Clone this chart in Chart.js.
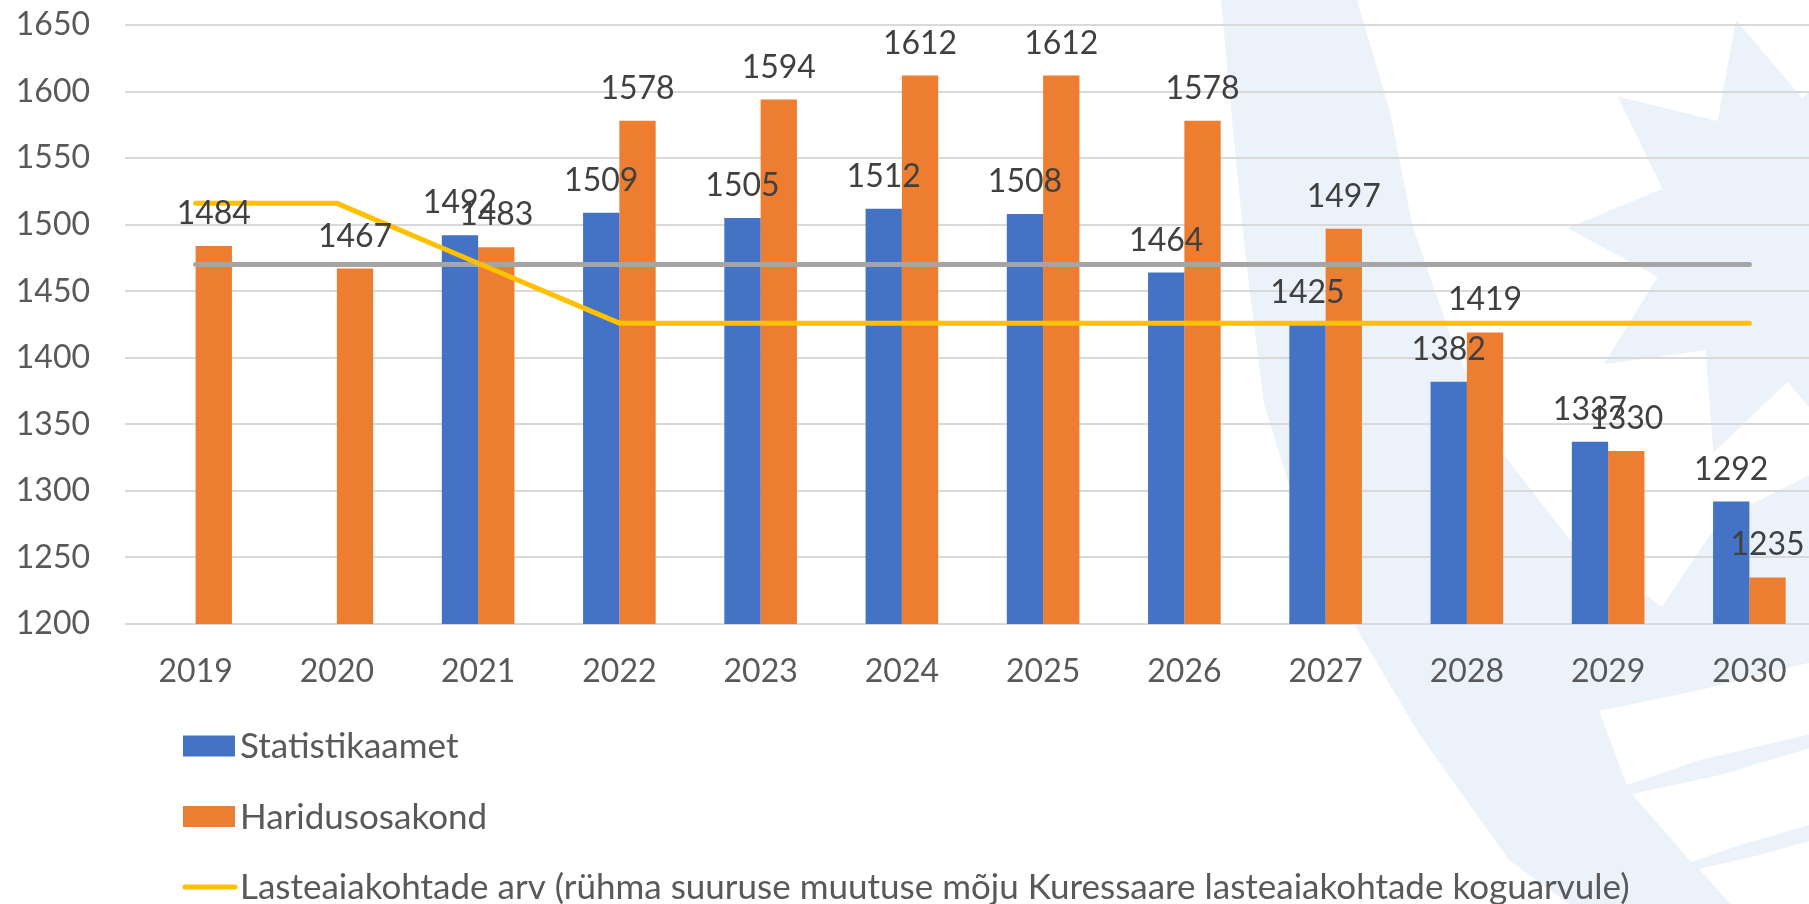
<!DOCTYPE html>
<html>
<head>
<meta charset="utf-8">
<script src="https://cdn.jsdelivr.net/npm/chart.js@4"></script>
<style>
  body { margin: 0; overflow: hidden; background: #fff; }
  #wrap { width: 1820px; height: 904px; }
</style>
</head>
<body>
<div id="wrap"><canvas id="chart" width="1820" height="904"></canvas></div>
<script>
const years = ["2019", "2020", "2021", "2022", "2023", "2024", "2025", "2026", "2027", "2028", "2029", "2030"];
const statistikaamet = [null, null, 1492, 1509, 1505, 1512, 1508, 1464, 1425, 1382, 1337, 1292];
const haridusosakond = [1484, 1467, 1483, 1578, 1594, 1612, 1612, 1578, 1497, 1419, 1330, 1235];
const lasteaiakohad = [1516, 1516, 1471, 1426, 1426, 1426, 1426, 1426, 1426, 1426, 1426, 1426];
const praegused = [1470, 1470, 1470, 1470, 1470, 1470, 1470, 1470, 1470, 1470, 1470, 1470];
const yTicks = [1200, 1250, 1300, 1350, 1400, 1450, 1500, 1550, 1600, 1650];

const labelColor = "#404040";
const axisColor = "#595959";
const lightBlue = "#EBF2FA";

Chart.defaults.font.family = "Lato";

// faint logo in the background
const watermark = {
  id: "watermark",
  beforeDraw(chart) {
    const ctx = chart.ctx;
    const poly = (pts, color) => {
      ctx.beginPath();
      ctx.moveTo(pts[0][0], pts[0][1]);
      pts.slice(1).forEach((p) => ctx.lineTo(p[0], p[1]));
      ctx.closePath();
      ctx.fillStyle = color;
      ctx.fill();
    };
    ctx.save();
    ctx.fillStyle = "#fff";
    ctx.fillRect(0, 0, chart.width, chart.height);
    // big shape on the right
    poly([[1221, 0], [1232, 120], [1246, 260], [1264, 404], [1300, 520], [1352, 621],
      [1420, 735], [1509, 860], [1569, 904], [1820, 904], [1820, 0]], lightBlue);
    // white band
    poly([[1357, 0], [1390, 112], [1412, 224], [1450, 335], [1497, 446], [1570, 540],
      [1662, 607], [1720, 520], [1820, 470], [1820, 0]], "#fff");
    // star
    const cx = 1795, cy = 240, R = 228, r = 142;
    const pts = [];
    for (let i = 0; i < 20; i++) {
      const a = (-105 + i * 18) * Math.PI / 180;
      const rad = i % 2 === 0 ? R : r;
      pts.push([cx + rad * Math.cos(a), cy + rad * Math.sin(a)]);
    }
    poly(pts, lightBlue);
    // white stripes lower right
    poly([[1599, 711], [1700, 690], [1820, 660], [1820, 732], [1700, 760], [1627, 785]], "#fff");
    poly([[1632, 794], [1720, 775], [1820, 745], [1820, 822], [1740, 845], [1691, 862]], "#fff");
    poly([[1699, 869], [1760, 855], [1820, 838], [1820, 904], [1730, 904]], "#fff");
    ctx.restore();
  },
};

// value labels above the bars
const valueLabels = {
  id: "valueLabels",
  afterDatasetsDraw(chart) {
    const ctx = chart.ctx;
    ctx.save();
    ctx.font = "32px Lato";
    ctx.fillStyle = labelColor;
    ctx.textAlign = "center";
    ctx.textBaseline = "alphabetic";
    chart.data.datasets.forEach((ds, i) => {
      if (ds.type !== "bar") return;
      chart.getDatasetMeta(i).data.forEach((bar, j) => {
        const v = ds.data[j];
        if (v === null) return;
        ctx.fillText(String(v), bar.x, bar.y - 22);
      });
    });
    ctx.restore();
  },
};

// legend stacked under the chart
const stackedLegend = {
  id: "stackedLegend",
  afterDraw(chart) {
    const ctx = chart.ctx;
    const items = chart.data.datasets.filter((ds) => ds.label);
    items.sort((a, b) => a.legendOrder - b.legendOrder);
    ctx.save();
    ctx.font = "35px Lato";
    ctx.textBaseline = "middle";
    items.forEach((ds, i) => {
      const y = 746 + i * 70.5;
      if (ds.type === "bar") {
        ctx.fillStyle = ds.backgroundColor;
        ctx.fillRect(183, y - 10.5, 52, 21);
      } else {
        ctx.strokeStyle = ds.borderColor;
        ctx.lineWidth = 5;
        ctx.lineCap = "round";
        ctx.beginPath();
        ctx.moveTo(185, y);
        ctx.lineTo(235, y);
        ctx.stroke();
      }
      ctx.fillStyle = axisColor;
      ctx.fillText(ds.label, 240, y + 1);
    });
    ctx.restore();
  },
};

new Chart(document.getElementById("chart"), {
  data: {
    labels: years,
    datasets: [
      {
        type: "line",
        label: "Lasteaiakohtade arv (rühma suuruse muutuse mõju Kuressaare lasteaiakohtade koguarvule)",
        legendOrder: 3,
        data: lasteaiakohad,
        borderColor: "#FFC000",
        borderWidth: 5,
        borderCapStyle: "round",
        pointRadius: 0,
        tension: 0,
        order: 0,
      },
      {
        type: "line",
        label: "",
        data: praegused,
        borderColor: "#A5A5A5",
        borderWidth: 5,
        borderCapStyle: "round",
        pointRadius: 0,
        tension: 0,
        order: 1,
      },
      {
        type: "bar",
        label: "Statistikaamet",
        legendOrder: 1,
        data: statistikaamet,
        backgroundColor: "#4472C4",
        order: 2,
      },
      {
        type: "bar",
        label: "Haridusosakond",
        legendOrder: 2,
        data: haridusosakond,
        backgroundColor: "#ED7D31",
        order: 2,
      },
    ],
  },
  options: {
    responsive: false,
    animation: false,
    devicePixelRatio: 1,
    layout: { padding: { top: 25, left: 0, right: 0, bottom: 0 } },
    datasets: {
      bar: { categoryPercentage: 0.514, barPercentage: 1 },
    },
    plugins: {
      legend: { display: false },
      tooltip: { enabled: false },
    },
    scales: {
      x: {
        grid: { display: false },
        border: { display: false },
        ticks: { color: axisColor, font: { size: 32 }, padding: 20 },
        afterFit(scale) { scale.height = 280; },
      },
      y: {
        min: 1200,
        max: 1650,
        grid: { color: "#D9D9D9", lineWidth: 2, drawTicks: false },
        border: { display: false },
        afterBuildTicks(scale) { scale.ticks = yTicks.map((v) => ({ value: v })); },
        ticks: { color: axisColor, font: { size: 32 }, padding: 35, callback: (v) => String(v) },
        afterFit(scale) {
          scale.width = 125;
          scale.paddingTop = 0;
          scale.paddingBottom = 0;
        },
      },
    },
  },
  plugins: [watermark, valueLabels, stackedLegend],
});
</script>
</body>
</html>
